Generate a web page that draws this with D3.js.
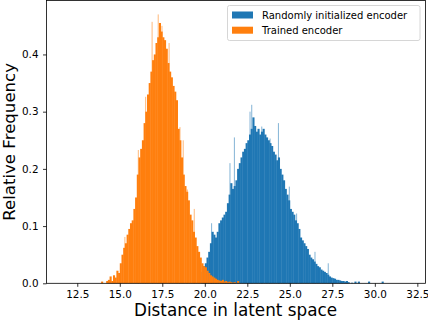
<!DOCTYPE html>
<html lang="en">
<head>
    <meta charset="UTF-8">
    <script src="https://d3js.org/d3.v7.min.js"></script>
    <title>Distance histogram</title>
    <style>
        body { margin: 0; background: #fff; }
        text { font-family: "DejaVu Sans", sans-serif; fill: #000; }
    </style>
</head>
<body>
    <div id="container"></div>
    <script type="text/javascript">

        // histogram bins (left edge of first bin, bin width) and relative frequencies
        const binWidth = 0.1;
        const trainedStart = 13.9;
        const trainedFreq = [
            0.003, 0, 0, 0.004, 0.006, 0.012, 0.004, 0.014, 0.010, 0.022,
            0.018, 0.035, 0.050, 0.062, 0.070, 0.085, 0.095, 0.105, 0.110, 0.130,
            0.150, 0.190, 0.220, 0.235, 0.250, 0.280, 0.300, 0.330, 0.350, 0.370,
            0.390, 0.400, 0.420, 0.430, 0.455, 0.440, 0.430, 0.425, 0.410, 0.385,
            0.370, 0.360, 0.345, 0.335, 0.320, 0.270, 0.250, 0.220, 0.190, 0.170,
            0.160, 0.145, 0.120, 0.110, 0.090, 0.080, 0.065, 0.055, 0.045, 0.035,
            0.030, 0.028, 0.022, 0.018, 0.014, 0.012, 0.010, 0.008, 0.006, 0.005,
            0.004, 0.006, 0.003, 0.004, 0.002, 0.003, 0.002, 0.001, 0.002, 0, 0.004
        ];
        const randomStart = 19.8;
        const randomFreq = [
            0.020, 0.030, 0.035, 0.045, 0.055, 0.070, 0.090, 0.085, 0.080, 0.090,
            0.105, 0.110, 0.115, 0.120, 0.125, 0.140, 0.155, 0.175, 0.165, 0.170,
            0.180, 0.200, 0.210, 0.220, 0.230, 0.235, 0.245, 0.250, 0.260, 0.270,
            0.290, 0.275, 0.265, 0.270, 0.260, 0.265, 0.270, 0.260, 0.255, 0.250,
            0.245, 0.240, 0.230, 0.225, 0.215, 0.220, 0.200, 0.190, 0.180, 0.165,
            0.155, 0.145, 0.130, 0.125, 0.120, 0.110, 0.105, 0.095, 0.080, 0.075,
            0.070, 0.065, 0.060, 0.050, 0.045, 0.042, 0.038, 0.034, 0.030, 0.028,
            0.024, 0.022, 0.020, 0.018, 0.015, 0.012, 0.010, 0.009, 0.008, 0.006,
            0.006, 0.005, 0.004, 0.004, 0.003, 0.004, 0.002, 0, 0.001, 0,
            0.003, 0, 0.003, 0, 0, 0, 0, 0, 0.003, 0,
            0, 0, 0, 0, 0, 0, 0.003
        ];

        // thin single bins that stick out above the envelope (position, frequency)
        const trainedSpikeX = [15.30, 16.09, 16.52, 16.90, 17.26, 17.48, 17.90, 18.54, 18.73, 18.97, 19.38];
        const trainedSpikeF = [0.081, 0.233, 0.326, 0.457, 0.470, 0.450, 0.420, 0.273, 0.250, 0.164, 0.130];
        const randomSpikeX = [20.40, 21.48, 21.74, 22.66, 22.76, 23.35, 23.84, 24.33, 24.97, 25.40, 26.48, 27.26];
        const randomSpikeF = [0.105, 0.210, 0.255, 0.300, 0.312, 0.274, 0.253, 0.280, 0.169, 0.122, 0.055, 0.035];

        const xTicks = [12.5, 15.0, 17.5, 20.0, 22.5, 25.0, 27.5, 30.0, 32.5];
        const yTicks = [0.0, 0.1, 0.2, 0.3, 0.4];

        const seriesNames = ["Randomly initialized encoder", "Trained encoder"];
        const seriesColors = ["#1f77b4", "#ff7f0e"];

        const w = 428, h = 323;
        const plot = { left: 46.5, right: 425.5, top: 0.5, bottom: 283.3 };

        const svg = d3.select("#container")
            .append("svg")
            .attr("width", w)
            .attr("height", h)
            .style("display", "block");

        const xScale = d3.scaleLinear()
            .domain([10.69, 32.98])
            .range([plot.left, plot.right]);

        const yScale = d3.scaleLinear()
            .domain([0, 0.4943])
            .range([plot.bottom, plot.top]);

        function toBins(start, freq) {
            return freq.map((f, i) => ({ x0: start + i * binWidth, x1: start + (i + 1) * binWidth, f: f }));
        }

        const series = [
            { bins: toBins(randomStart, randomFreq), sx: randomSpikeX, sf: randomSpikeF },
            { bins: toBins(trainedStart, trainedFreq), sx: trainedSpikeX, sf: trainedSpikeF }
        ];

        // bars, trained drawn over random like matplotlib
        series.forEach((s, k) => {
            const g = svg.append("g");

            g.selectAll("rect.spike")
                .data(s.sx.map((x, i) => ({ x: x, f: s.sf[i] })))
                .enter()
                .append("rect")
                .attr("class", "spike")
                .attr("x", d => xScale(d.x) - 0.5)
                .attr("y", d => yScale(d.f))
                .attr("width", 1)
                .attr("height", d => yScale(0) - yScale(d.f))
                .attr("fill", seriesColors[k])
                .attr("fill-opacity", 0.55);

            g.selectAll("rect.bin")
                .data(s.bins.filter(d => d.f > 0))
                .enter()
                .append("rect")
                .attr("class", "bin")
                .attr("x", d => xScale(d.x0))
                .attr("y", d => yScale(d.f))
                .attr("width", d => xScale(d.x1) - xScale(d.x0) + 0.4)
                .attr("height", d => yScale(0) - yScale(d.f))
                .attr("fill", seriesColors[k]);
        });

        // axes
        const xAxis = d3.axisBottom(xScale)
            .tickValues(xTicks)
            .tickFormat(d3.format(".1f"))
            .tickSizeInner(3.5)
            .tickSizeOuter(0)
            .tickPadding(3.5);

        const yAxis = d3.axisLeft(yScale)
            .tickValues(yTicks)
            .tickFormat(d3.format(".1f"))
            .tickSizeInner(3.5)
            .tickSizeOuter(0)
            .tickPadding(4.5);

        const gx = svg.append("g")
            .attr("transform", "translate(0," + plot.bottom + ")")
            .call(xAxis);

        const gy = svg.append("g")
            .attr("transform", "translate(" + plot.left + ",0)")
            .call(yAxis);

        [gx, gy].forEach(g => {
            g.select(".domain").remove();
            g.selectAll(".tick line").attr("stroke", "#000").attr("stroke-width", 0.8);
            g.selectAll(".tick text")
                .style("font-family", "DejaVu Sans")
                .style("font-size", "10.4px")
                .attr("fill", "#000");
        });

        // frame
        svg.append("rect")
            .attr("x", plot.left)
            .attr("y", plot.top)
            .attr("width", plot.right - plot.left)
            .attr("height", plot.bottom - plot.top)
            .attr("fill", "none")
            .attr("stroke", "#000")
            .attr("stroke-width", 0.8);

        // axis labels
        svg.append("text")
            .attr("x", (plot.left + plot.right) / 2 - 0.5)
            .attr("y", 316)
            .attr("text-anchor", "middle")
            .style("font-size", "16.8px")
            .text("Distance in latent space");

        svg.append("text")
            .attr("transform", "rotate(-90)")
            .attr("x", -(plot.top + plot.bottom) / 2)
            .attr("y", 14.5)
            .attr("text-anchor", "middle")
            .style("font-size", "16.6px")
            .text("Relative Frequency");

        // legend
        const legend = svg.append("g");
        legend.append("rect")
            .attr("x", 227.5)
            .attr("y", 5.5)
            .attr("width", 192.5)
            .attr("height", 35)
            .attr("rx", 2)
            .attr("fill", "#fff")
            .attr("fill-opacity", 0.8)
            .attr("stroke", "#cccccc")
            .attr("stroke-width", 0.8);

        seriesNames.forEach((name, i) => {
            legend.append("rect")
                .attr("x", 232)
                .attr("y", 11.5 + i * 15.2)
                .attr("width", 21)
                .attr("height", 7)
                .attr("fill", seriesColors[i]);
            legend.append("text")
                .attr("x", 262)
                .attr("y", 18.8 + i * 15.2)
                .style("font-size", "10px")
                .text(name);
        });

    </script>
</body>
</html>
